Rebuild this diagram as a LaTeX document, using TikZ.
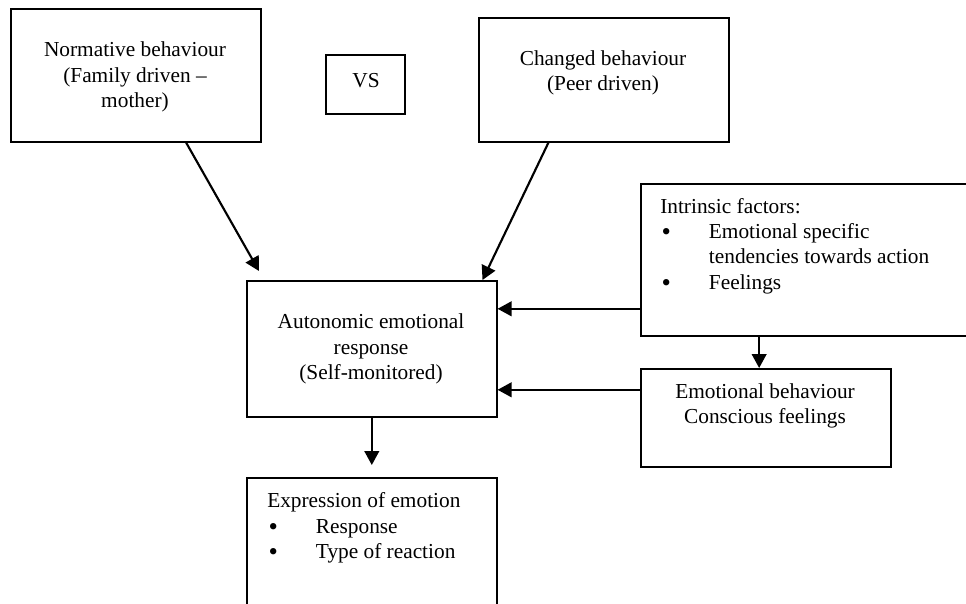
\documentclass[tikz,border=0pt]{standalone}
\usepackage{fontspec}
\setmainfont{Liberation Serif}
\usetikzlibrary{arrows.meta,calc}

\newcommand{\bul}{\makebox[36.5pt][l]{\hspace{1pt}\raisebox{-1.6pt}{\scalebox{1.25}{\textbullet}}}}

\begin{document}
\begin{tikzpicture}[x=0.75pt,y=-0.75pt,
    box/.style={draw,line width=1.2pt,anchor=north west,inner sep=0pt},
    lbl/.style={inner sep=0pt,font=\fontsize{16}{19}\selectfont},
    arr/.style={line width=1.6pt,-{Triangle[length=10.5pt,width=11pt]}}]
    \clip (0,0) rectangle (966,603);

    % boxes
    \node[box,minimum width=187.5pt,minimum height=99.75pt] (norm) at (10,8) {};
    \node[box,minimum width=59.25pt,minimum height=44.25pt] (vs) at (325,54) {};
    \node[box,minimum width=187.5pt,minimum height=93pt] (chg) at (478,17) {};
    \node[box,minimum width=187.5pt,minimum height=102pt] (auto) at (246,280) {};
    \node[box,minimum width=252pt,minimum height=114pt] (intr) at (640,183) {};
    \node[box,minimum width=187.5pt,minimum height=73.5pt] (emo) at (640,368) {};
    \node[box,minimum width=187.5pt,minimum height=112.5pt] (expr) at (246,477) {};

    % texts
    \node[lbl,align=center] (normtxt) at (135,77) {Normative behaviour\\(Family driven --\\mother)};
    \node[lbl] (vstxt) at (366,81) {VS};
    \node[lbl,align=center] (chgtxt) at (603,73) {Changed behaviour\\(Peer driven)};
    \node[lbl,align=center] (autotxt) at (371,349) {Autonomic emotional\\response\\(Self-monitored)};
    \node[lbl,align=left,anchor=west] (intrtxt) at (660,246) {Intrinsic factors:\\
        \bul Emotional specific\\
        \hspace*{36.5pt}tendencies towards action\\
        \bul Feelings};
    \node[lbl,align=center] (emotxt) at (765,406) {Emotional behaviour\\Conscious feelings};
    \node[lbl,align=left,anchor=west] (exprtxt) at (267,528) {Expression of emotion\\
        \bul Response\\
        \bul Type of reaction};

    % arrows
    \coordinate (normend) at (259,271);
    \draw[arr] ($(norm.south west)!0.7!(norm.south east)$) -- (normend);
    \draw[arr] ($(chg.south west)!0.28!(chg.south east)$) -- ($(auto.north west)!0.94!(auto.north east)$);
    \draw[arr] ([yshift=-36.75pt]intr.west) -- ([yshift=-36.75pt]intr.west -| auto.east);
    \draw[arr] ([yshift=21pt]emo.west) -- ([yshift=21pt]emo.west -| auto.east);
    \draw[arr] ([xshift=-5pt]emo.north |- intr.south) -- ([xshift=-5pt]emo.north);
    \draw[arr,shorten >=9pt] (auto.south) -- (expr.north);
\end{tikzpicture}
\end{document}
